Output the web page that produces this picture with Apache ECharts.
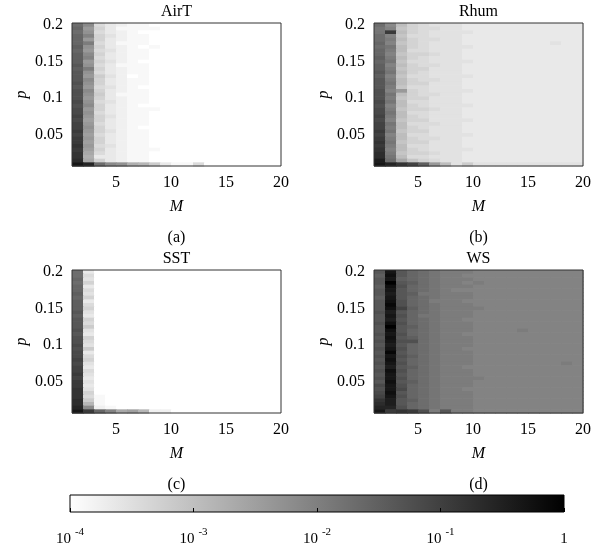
<!DOCTYPE html>
<html>
<head>
<meta charset="utf-8">
<script src="https://cdn.jsdelivr.net/npm/echarts@6/dist/echarts.min.js"></script>
<style>
  html, body { margin: 0; padding: 0; background: #fff; }
  #chart { width: 602px; height: 547px; }
</style>
</head>
<body>
<div id="chart"></div>
<script>
// M at the left edge of each cell column, p at the centre of each row (top row first)
const mValues = [1, 2, 3, 4, 5, 6, 7, 8, 9, 10, 11, 12, 13, 14, 15, 16, 17, 18, 19];
const pValues = [0.2, 0.195, 0.19, 0.185, 0.18, 0.175, 0.17, 0.165, 0.16, 0.155,
  0.15, 0.145, 0.14, 0.135, 0.13, 0.125, 0.12, 0.115, 0.11, 0.105,
  0.1, 0.095, 0.09, 0.085, 0.08, 0.075, 0.07, 0.065, 0.06, 0.055,
  0.05, 0.045, 0.04, 0.035, 0.03, 0.025, 0.02, 0.015, 0.01];
const mStep = 1;
const pStep = 0.005;

const xTicks = [5, 10, 15, 20];
const yTicks = [0.05, 0.1, 0.15, 0.2];
const colorTicks = [0.0001, 0.001, 0.01, 0.1, 1];
const panelNames = ['AirT', 'Rhum', 'SST', 'WS'];
const panelTags = ['(a)', '(b)', '(c)', '(d)'];

// shade of every cell: one base-36 char per cell,
// 0 = 10^-4 (white) ... z = 1 (black), exponent = -4 + 4 * k / 35
const airT = [
  'kg532 11000 00000 0000', 'le631 11100 00000 0000', 'kf532 10000 00000 0000',
  'lh642 11000 00000 0000', 'le632 11000 00000 0000', 'li531 11000 00000 0000',
  'mf632 10100 00000 0000', 'le542 11000 00000 0000', 'mg632 11000 00000 0000',
  'mh532 11000 00000 0000', 'me642 10000 00000 0000', 'nf531 11000 00000 0000',
  'mi632 11000 00000 0000', 'nf532 11000 00000 0000', 'ne742 01000 00000 0000',
  'ng632 11000 00000 0000', 'of632 11000 00000 0000', 'ne542 10000 00000 0000',
  'og632 11000 00000 0000', 'of731 11000 00000 0000', 'oe632 11000 00000 0000',
  'pf542 11000 00000 0000', 'og632 10000 00000 0000', 'pe632 11100 00000 0000',
  'pf532 11000 00000 0000', 'qe642 11000 00000 0000', 'pd632 11000 00000 0000',
  'qe532 11000 00000 0000', 'qf632 10000 00000 0000', 're642 11000 00000 0000',
  'qd532 11000 00000 0000', 're632 11000 00000 0000', 'rd632 11000 00000 0000',
  'se542 11000 00000 0000', 'rd632 11100 00000 0000', 'sc532 11000 00000 0000',
  'sb332 11000 00000 0000', 'tc632 11000 00000 0000', 'wukgf ba731 15000 0000'
];
const rhum = [
  'kg965 44433 33333 3333', 'jh865 54433 33333 3333', 'jr965 44443 33333 3333',
  'kh855 44433 33333 3333', 'ki965 54433 33333 3333', 'lh865 44433 33333 3433',
  'kj965 44443 33333 3333', 'li955 44433 33333 3333', 'lh866 54433 33333 3333',
  'mi965 44433 33333 3333', 'lj855 44443 33333 3333', 'mh965 54433 33333 3333',
  'mi866 44433 33333 3333', 'nj965 44433 33333 3333', 'mh855 44443 33333 3333',
  'ni965 54433 33333 3333', 'nj966 44433 33333 3333', 'ni855 44433 33333 3333',
  'ohe65 44443 33333 3333', 'oj965 54433 33333 3333', 'oi866 44433 33333 3333',
  'pj955 44433 33333 3333', 'oh965 44443 33333 3333', 'pi866 54433 33333 3333',
  'pj955 44433 33333 3333', 'qi965 44433 33333 3333', 'ph866 44443 33333 3333',
  'qj955 54433 33333 3333', 'qi965 44433 33333 3333', 'rj866 44433 33333 3333',
  'qh955 44443 33333 3333', 'ri965 54433 33333 3333', 'sj866 44433 33333 3333',
  'ri955 44433 33333 3333', 'sh965 44443 33333 3333', 'ti866 54433 33333 3333',
  'tj955 44433 33333 3333', 'vkc86 54433 33333 3333', 'wusqm e9474 44444 4444'
];
const sst = [
  'k3000 00000 00000 0000', 'k5000 00000 00000 0000', 'l4000 00000 00000 0000',
  'k6000 00000 00000 0000', 'l3000 00000 00000 0000', 'l5000 00000 00000 0000',
  'm4000 00000 00000 0000', 'l6000 00000 00000 0000', 'm3000 00000 00000 0000',
  'm5000 00000 00000 0000', 'm6000 00000 00000 0000', 'n4000 00000 00000 0000',
  'm3000 00000 00000 0000', 'n6000 00000 00000 0000', 'n5000 00000 00000 0000',
  'n7000 00000 00000 0000', 'o4000 00000 00000 0000', 'n3000 00000 00000 0000',
  'o6000 00000 00000 0000', 'o5000 00000 00000 0000', 'p4000 00000 00000 0000',
  'o7000 00000 00000 0000', 'p3000 00000 00000 0000', 'p5000 00000 00000 0000',
  'q6000 00000 00000 0000', 'p4000 00000 00000 0000', 'q3000 00000 00000 0000',
  'q5000 00000 00000 0000', 'r4000 00000 00000 0000', 'q3000 00000 00000 0000',
  'r4000 00000 00000 0000', 'r3000 00000 00000 0000', 's4000 00000 00000 0000',
  's6000 00000 00000 0000', 's5100 00000 00000 0000', 't7100 00000 00000 0000',
  'ta100 00000 00000 0000', 'ug210 00000 00000 0000', 'wrlhc da220 00000 0000'
];
const ws = [
  'nwnlk jiiih hhhhh hhhh', 'mxnlk jiihh hhhhh hhhh', 'nwmlk jiiih hhhhh hhhh',
  'nznmk jiihi hhhhh hhhh', 'mxolk jiiih hhhhh hhhh', 'nwnlk jihhh hhhhh hhhh',
  'nvnmj jiiih hhhhh hhhh', 'mwnlk jiiih hhhhh hhhh', 'nxolk iiihh hhhhh hhhh',
  'nyolk jiiih hhhhh hhhh', 'nxqmk jiiii hhhhh hhhh', 'ovnlk jiiih hhhhh hhhh',
  'nwolj jiiih hhhhh hhhh', 'nvnlk jiihh hhhhh hhhh', 'oxolk jiiih hhhhh hhhh',
  'nznmk jiiih hhhhh hhhh', 'nxnlk jiiih hhhih hhhh', 'owolk jiihh hhhhh hhhh',
  'nxnmk jiiih hhhhh hhhh', 'owook jiiih hhhhh hhhh', 'nvnlk jiiih hhhhh hhhh',
  'owolk jiihh hhhhh hhhh', 'nynlk jiiih hhhhh hhhh', 'owomk jiiih hhhhh hhhh',
  'nxnlk jiiih hhhhh hhhh', 'owolk jiiih hhhhh hhih', 'nvnmk jiihh hhhhh hhhh',
  'oxolk jiiih hhhhh hhhh', 'nwnlk jiiih hhhhh hhhh', 'owolk jiiii hhhhh hhhh',
  'nxnmk jiiih hhhhh hhhh', 'pwolk jiiih hhhhh hhhh', 'owplk jiihh hhhhh hhhh',
  'pxnlk jiiih hhhhh hhhh', 'qwolk jiiih hhhhh hhhh', 'svnmk jiiih hhhhh hhhh',
  'tvnlk jiiih hhhhh hhhh', 'uuolk jiiih hhhhh hhhh', 'wrsro iniih hhhhh hhhh'
];
const panelRows = [airT, rhum, sst, ws];

const font = 'Liberation Serif';
const panelGrids = [
  { left: 72, top: 23 }, { left: 374, top: 23 },
  { left: 72, top: 270 }, { left: 374, top: 270 }
];
const panelW = 209, panelH = 143;

function cells(rows) {
  const out = [];
  rows.forEach((row, r) => {
    row.replace(/ /g, '').split('').forEach((ch, c) => {
      out.push([mValues[c], pValues[r], -4 + 4 * parseInt(ch, 36) / 35]);
    });
  });
  return out;
}

function renderCell(params, api) {
  const a = api.coord([api.value(0), api.value(1) - pStep / 2]);
  const b = api.coord([api.value(0) + mStep, api.value(1) + pStep / 2]);
  return {
    type: 'rect',
    shape: { x: a[0], y: b[1], width: b[0] - a[0] + 0.6, height: a[1] - b[1] + 0.6 },
    style: { fill: api.visual('color') }
  };
}

const chart = echarts.init(document.getElementById('chart'), null, { renderer: 'canvas' });

const grid = panelGrids.map(g => ({
  left: g.left, top: g.top, width: panelW, height: panelH,
  show: true, backgroundColor: 'transparent', borderColor: '#333', borderWidth: 1, z: 10
}));
grid.push({
  left: 70, top: 495, width: 494, height: 17,
  show: true, borderColor: '#000', borderWidth: 1,
  backgroundColor: new echarts.graphic.LinearGradient(0, 0, 1, 0, [
    { offset: 0, color: '#ffffff' }, { offset: 1, color: '#000000' }
  ])
});

const labelStyle = { color: '#000', fontFamily: font, fontSize: 16 };

const xAxis = panelGrids.map((g, i) => ({
  type: 'value', gridIndex: i, min: 1, max: 20,
  axisLine: { show: false }, axisTick: { show: false }, splitLine: { show: false },
  axisLabel: Object.assign({ customValues: xTicks, margin: 9 }, labelStyle),
  name: 'M', nameLocation: 'middle', nameGap: 33,
  nameTextStyle: { color: '#000', fontFamily: font, fontSize: 16, fontStyle: 'italic' }
}));
xAxis.push({
  type: 'log', logBase: 10, gridIndex: 4, min: 0.0001, max: 1,
  axisLine: { show: false }, splitLine: { show: false },
  axisTick: { show: true, inside: true, length: 4, customValues: colorTicks, lineStyle: { color: '#000' } },
  axisLabel: {
    customValues: colorTicks, margin: 15,
    formatter: v => v >= 1 ? '{b|1}' : '{b|10}{s|' + Math.round(Math.log10(v)) + '}',
    rich: {
      b: { color: '#000', fontFamily: font, fontSize: 15, lineHeight: 20, verticalAlign: 'bottom' },
      s: { color: '#000', fontFamily: font, fontSize: 11, lineHeight: 8, verticalAlign: 'top', padding: [0, 0, 0, 4] }
    }
  }
});

const yAxis = panelGrids.map((g, i) => ({
  type: 'value', gridIndex: i, min: 0.0075, max: 0.2025,
  axisLine: { show: false }, axisTick: { show: false }, splitLine: { show: false },
  axisLabel: Object.assign({ customValues: yTicks, margin: 9 }, labelStyle),
  name: 'p', nameLocation: 'middle', nameGap: 42,
  nameTextStyle: { color: '#000', fontFamily: font, fontSize: 16, fontStyle: 'italic' }
}));
yAxis.push({ type: 'value', gridIndex: 4, show: false, min: 0, max: 1 });

const series = panelRows.map((rows, i) => ({
  type: 'custom', name: panelNames[i], xAxisIndex: i, yAxisIndex: i,
  renderItem: renderCell, data: cells(rows), silent: true
}));

const graphic = [];
panelGrids.forEach((g, i) => {
  const cx = g.left + panelW / 2;
  graphic.push({
    type: 'text', x: cx, y: g.top - 11,
    style: { text: panelNames[i], align: 'center', verticalAlign: 'middle', fill: '#000', font: '16px "' + font + '"' }
  });
  graphic.push({
    type: 'text', x: cx, y: g.top + panelH + 72,
    style: { text: panelTags[i], align: 'center', verticalAlign: 'middle', fill: '#000', font: '16px "' + font + '"' }
  });
});

chart.setOption({
  animation: false,
  grid, xAxis, yAxis, series, graphic,
  visualMap: {
    type: 'continuous', show: false, seriesIndex: [0, 1, 2, 3], dimension: 2,
    min: -4, max: 0, inRange: { color: ['#ffffff', '#000000'] }
  }
});
</script>
</body>
</html>
